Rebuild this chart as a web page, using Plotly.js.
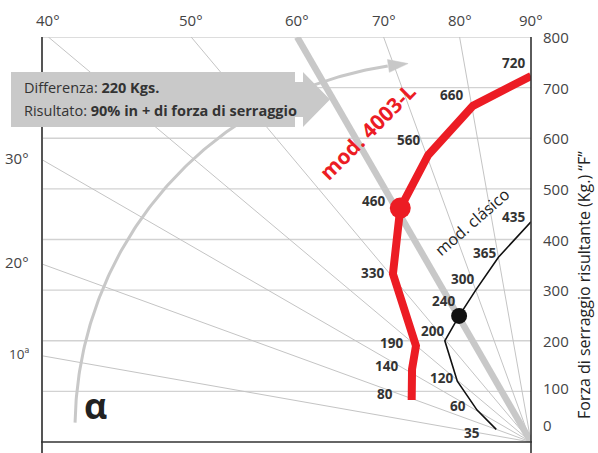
<!DOCTYPE html>
<html><head><meta charset="utf-8">
<script src="https://cdn.plot.ly/plotly-3.0.1.min.js"></script>
<style>html,body{margin:0;padding:0;background:#fff}#chart{width:598px;height:453px}</style>
</head><body><div id="chart"></div>
<script>
// ---------------- DATA ----------------
const forceTicks = [0, 100, 200, 300, 400, 500, 600, 700, 800];
const angleTopValues = [40, 50, 60, 70, 80, 90];
const angleTopLabels = ['40°', '50°', '60°', '70°', '80°', '90°'];
const angleLeftValues = [30, 20, 10];
const angleLeftLabels = ['30°', '20°', '10ª'];
const radialAngles = [10, 20, 30, 40, 50, 70, 80];
const highlightAngle = 60;

// mod. 4003-L (red): label, force F (Kg), angle α (deg)
const modLabels = ['80', '140', '190', '330', '460', '560', '660', '720'];
const modForce  = [83, 144, 190, 332, 462, 567, 664, 723];
const modAngle  = [19.4, 31.5, 39.9, 50.6, 60.8, 70.3, 80.2, 90];
const modHighlight = 4;

// mod. clásico (black)
const clasicoLabels = ['35', '60', '120', '200', '240', '300', '365', '435'];
const clasicoForce  = [25, 63, 120, 200, 249, 300, 365, 435];
const clasicoAngle  = [20, 30.6, 39.5, 49.6, 60.3, 70, 80, 90];
const clasicoHighlight = 4;

const boxLine1 = 'Differenza: <b>220 Kgs.</b>';
const boxLine2 = 'Risultato: <b>90% in + di forza di serraggio</b>';
const yTitle = 'Forza di serraggio risultante (Kg.) “F”';

// ---------------- GEOMETRY ----------------
const L = 42, R = 531, T = 37, B = 442;       // plot area in pixels
const ppu = (B - T) / 800;                    // pixels per unit (same on both axes)
const xMin = -(R - L) / ppu;
const rad = d => d * Math.PI / 180;
const xOf = (F, a) => (a >= 90 ? 0 : -F * Math.cos(rad(a)) / Math.sin(rad(a)));
const dx = p => -(R - p) / ppu;               // pixel -> data (layout helpers)
const dy = p => (B - p) / ppu;
const pxp = p => (p - L) / (R - L);           // pixel -> paper
const pyp = p => (B - p) / (B - T);

const FONT = '"Open Sans", "Noto Sans", sans-serif';
const GRID = '#d2d2d2', RADIAL = '#c4c4c4', HL = '#c8c8c8', RED = '#ec1c24';

function radialEnd(a) {
  const xt = -800 / Math.tan(rad(a));
  if (a >= 90) return [0, 800];
  if (xt >= xMin) return [xt, 800];
  return [xMin, -xMin * Math.tan(rad(a))];
}

const traces = [];
// thin radial lines
{
  const xs = [], ys = [];
  radialAngles.forEach(a => { const e = radialEnd(a); xs.push(0, e[0], null); ys.push(0, e[1], null); });
  traces.push({x: xs, y: ys, mode: 'lines', line: {color: RADIAL, width: 1}, hoverinfo: 'skip'});
}
// highlighted 60° line
{
  const e = radialEnd(highlightAngle);
  traces.push({x: [0, e[0]], y: [0, e[1]], mode: 'lines', line: {color: HL, width: 6.5}, hoverinfo: 'skip'});
}
// arc with arrow (decorative)
{
  const cx = dx(442), cy = dy(429), r = 367 / ppu;
  const xs = [], ys = [];
  for (let p = 179; p >= 98.5; p -= 0.5) { xs.push(cx + r * Math.cos(rad(p))); ys.push(cy + r * Math.sin(rad(p))); }
  traces.push({x: xs, y: ys, mode: 'lines', line: {color: HL, width: 3}, hoverinfo: 'skip'});
  const tipA = 95.3, baseA = 98.4, half = 6.5 / ppu;
  const bx = cx + r * Math.cos(rad(baseA)), by = cy + r * Math.sin(rad(baseA));
  const tx = cx + r * Math.cos(rad(tipA)), ty = cy + r * Math.sin(rad(tipA));
  const nx = Math.cos(rad(baseA)), ny = Math.sin(rad(baseA));
  traces.push({x: [bx + nx * half, tx, bx - nx * half, bx + nx * half], y: [by + ny * half, ty, by - ny * half, by + ny * half],
    mode: 'lines', fill: 'toself', fillcolor: HL, line: {color: HL, width: 0.5}, hoverinfo: 'skip'});
}
// red series
const modX = modForce.map((f, i) => xOf(f, modAngle[i]));
traces.push({x: modX, y: modForce, mode: 'lines', line: {color: RED, width: 8}, hoverinfo: 'skip'});
traces.push({x: [modX[modHighlight]], y: [modForce[modHighlight]], mode: 'markers', marker: {color: RED, size: 21}, hoverinfo: 'skip'});
// black series
const clX = clasicoForce.map((f, i) => xOf(f, clasicoAngle[i]));
traces.push({x: clX, y: clasicoForce, mode: 'lines', line: {color: '#111', width: 1.6}, hoverinfo: 'skip'});
traces.push({x: [clX[clasicoHighlight]], y: [clasicoForce[clasicoHighlight]], mode: 'markers', marker: {color: '#111', size: 16}, hoverinfo: 'skip'});

// ---------------- SHAPES ----------------
const shapes = [];
forceTicks.filter(v => v > 0).forEach(v => shapes.push({type: 'line', xref: 'paper', yref: 'y', x0: 0, x1: 1, y0: v, y1: v,
  line: {color: GRID, width: 1.3}, layer: 'below'}));
// axes
shapes.push({type: 'line', xref: 'paper', yref: 'paper', x0: pxp(42), x1: pxp(42), y0: pyp(37), y1: pyp(453), line: {color: '#555', width: 2}});
shapes.push({type: 'line', xref: 'paper', yref: 'paper', x0: pxp(531), x1: pxp(531), y0: pyp(37), y1: pyp(453), line: {color: '#333', width: 1.6}});
shapes.push({type: 'line', xref: 'paper', yref: 'paper', x0: pxp(41), x1: pxp(532), y0: pyp(442), y1: pyp(442), line: {color: '#333', width: 1.6}});
// arrow box
{
  const pts = [[11,72],[295,72],[295,82],[303,82],[303,72],[330,99.5],[303,127],[303,117],[295,117],[295,127],[11,127]];
  const path = 'M ' + pts.map(p => pxp(p[0]).toFixed(5) + ',' + pyp(p[1]).toFixed(5)).join(' L ') + ' Z';
  shapes.push({type: 'path', xref: 'paper', yref: 'paper', path: path, fillcolor: '#c9c9c9', line: {width: 0}, layer: 'above'});
}

// ---------------- ANNOTATIONS ----------------
const ann = [];
const tickShift = {0: 17, 100: 3};
forceTicks.forEach(v => ann.push({xref: 'paper', yref: 'y', x: pxp(541), y: v, yshift: tickShift[v] || 0, text: String(v),
  showarrow: false, xanchor: 'left', yanchor: 'middle', font: {family: FONT, size: 15, color: '#444'}}));
angleTopValues.forEach((a, i) => ann.push({xref: 'x', yref: 'paper', x: radialEnd(a)[0], y: pyp(20), text: angleTopLabels[i],
  showarrow: false, xanchor: 'center', yanchor: 'middle', font: {family: FONT, size: 15, color: '#444'}}));
angleLeftValues.forEach((a, i) => ann.push({xref: 'paper', yref: 'y', x: pxp(31), y: radialEnd(a)[1], yshift: 2, text: angleLeftLabels[i],
  showarrow: false, xanchor: 'right', yanchor: 'middle', font: {family: FONT, size: a === 10 ? 13.5 : 15, color: '#444'}}));

const modShift = [[-27, 6], [-26, 3], [-24, 3], [-20, 1], [-27, 7], [-20, 15], [-21, 11], [-18, 13]];
modLabels.forEach((t, i) => ann.push({x: modX[i], y: modForce[i], xshift: modShift[i][0], yshift: modShift[i][1], text: '<b>' + t + '</b>',
  showarrow: false, xanchor: 'center', yanchor: 'middle', font: {family: FONT, size: 13.5, color: '#333'}}));
const clShift = [[-24, -4], [-19, 4], [-16, 3], [-12, 10], [-16, 15], [-13, 11], [-14, 4], [-18, 5]];
clasicoLabels.forEach((t, i) => ann.push({x: clX[i], y: clasicoForce[i], xshift: clShift[i][0], yshift: clShift[i][1], text: '<b>' + t + '</b>',
  showarrow: false, xanchor: 'center', yanchor: 'middle', font: {family: FONT, size: 13.5, color: '#333'}}));

ann.push({xref: 'paper', yref: 'paper', x: pxp(22), y: pyp(87), text: boxLine1, showarrow: false, xanchor: 'left', yanchor: 'middle',
  font: {family: FONT, size: 14.5, color: '#333'}});
ann.push({xref: 'paper', yref: 'paper', x: pxp(22), y: pyp(110), text: boxLine2, showarrow: false, xanchor: 'left', yanchor: 'middle',
  font: {family: FONT, size: 14.5, color: '#333'}});
ann.push({xref: 'paper', yref: 'paper', x: pxp(367), y: pyp(132), text: '<b>mod. 4003-L</b>', textangle: -45, showarrow: false,
  xanchor: 'center', yanchor: 'middle', font: {family: FONT, size: 21, color: RED}});
ann.push({xref: 'paper', yref: 'paper', x: pxp(472), y: pyp(222), text: 'mod. clásico', textangle: -41, showarrow: false,
  xanchor: 'center', yanchor: 'middle', font: {family: FONT, size: 16, color: '#222'}});
ann.push({xref: 'paper', yref: 'paper', x: pxp(95), y: pyp(405), text: '<b>α</b>', showarrow: false,
  xanchor: 'center', yanchor: 'middle', font: {family: FONT, size: 36, color: '#222'}});
ann.push({xref: 'paper', yref: 'paper', x: pxp(584), y: pyp(285), text: yTitle, textangle: -90, showarrow: false,
  xanchor: 'center', yanchor: 'middle', font: {family: FONT, size: 16, color: '#222'}});

const layout = {
  width: 598, height: 453,
  margin: {l: L, r: 598 - R, t: T, b: 453 - B, pad: 0},
  paper_bgcolor: '#fff', plot_bgcolor: '#fff',
  showlegend: false,
  xaxis: {range: [xMin, 0], visible: false, fixedrange: true},
  yaxis: {range: [0, 800], visible: false, fixedrange: true},
  shapes: shapes, annotations: ann
};
Plotly.newPlot('chart', traces, layout, {staticPlot: true, displayModeBar: false});
</script>
</body></html>
